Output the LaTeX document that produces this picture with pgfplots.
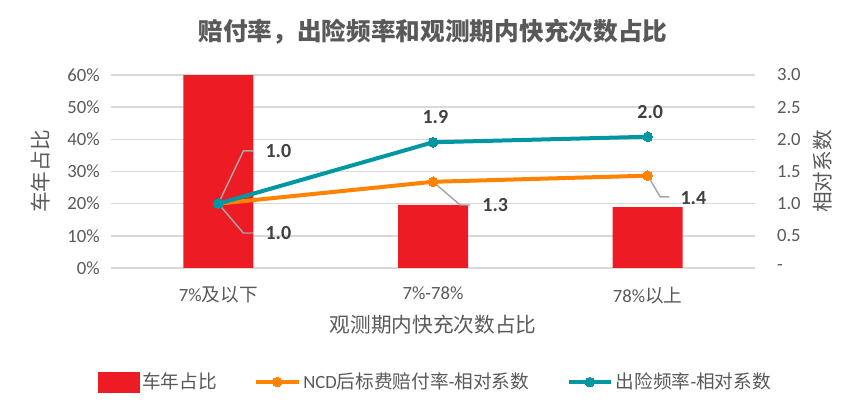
\documentclass[border=0pt]{standalone}
\usepackage{pgfplots}
\pgfplotsset{compat=1.18}
\usepackage{fontspec}
\setmainfont{Carlito}
\newfontfamily\cjk{Noto Sans CJK SC}
\newcommand\zh[1]{{\cjk #1}}
\definecolor{barred}{HTML}{ED1C24}
\definecolor{lorange}{HTML}{FF8200}
\definecolor{lteal}{HTML}{0097A3}
\definecolor{gridgray}{HTML}{D9D9D9}
\definecolor{txtgray}{HTML}{595959}
\definecolor{lblgray}{HTML}{404040}
\definecolor{leadgray}{HTML}{A6A6A6}
\tikzset{datalbl/.style={font=\fontsize{15}{18}\selectfont\bfseries, text=lblgray, anchor=center}}
\pgfplotsset{
  common/.style={
    scale only axis, width=483pt, height=144.75pt,
    xmin=-0.5, xmax=2.5,
    at={(0,0)}, anchor=south west,
    /pgf/number format/assume math mode=true,
    tick label style={font=\fontsize{14}{16}\selectfont, text=txtgray},
    label style={font=\fontsize{15.5}{18}\selectfont, text=txtgray},
    y axis line style={draw=none},
    ytick style={draw=none},
  },
}
\begin{document}
\begin{tikzpicture}
\useasboundingbox (-83.25pt,-108.75pt) rectangle (566.25pt,201pt);
\begin{axis}[
  common,
  axis x line*=bottom, axis y line*=left,
  x axis line style={gridgray, line width=1.1pt},
  ymin=0, ymax=60,
  ytick={0,10,...,60},
  yticklabel={\pgfmathprintnumber{\tick}\%},
  yticklabel style={xshift=-5pt},
  ymajorgrids, grid style={gridgray, line width=1.1pt},
  xtick={0,1,2},
  xticklabels={7\%\zh{及以下}, 7\%-78\%, 78\%\zh{以上}},
  xtick style={draw=none},
  xticklabel style={yshift=-10.5pt},
  extra x ticks={-0.5,0.5,1.5,2.5},
  extra x tick labels={},
  extra x tick style={grid=none, tick align=outside, major tick length=4pt,
    tick style={draw=gridgray, line width=1.1pt}},
  xlabel={\zh{观测期内快充次数占比}},
  xlabel style={at={(axis description cs:0.5,-0.295)}, anchor=center},
  ylabel={\zh{车年占比}},
  ylabel style={at={(axis description cs:-0.110,0.5)}, anchor=center},
  title={\zh{\bfseries 赔付率，出险频率和观测期内快充次数占比}},
  title style={at={(axis description cs:0.5,1.181)}, anchor=center,
    font=\fontsize{18.5}{22}\selectfont, text=txtgray},
]
\addplot[ybar, bar width=52.5pt, fill=barred, draw=none] coordinates {(0,60) (1,19.6) (2,18.9)};
\end{axis}
\begin{axis}[
  common,
  axis x line=none, axis y line*=right,
  ymin=0, ymax=3,
  ytick={0,0.5,1,1.5,2,2.5,3},
  yticklabels={-,0.5,1.0,1.5,2.0,2.5,3.0},
  yticklabel style={anchor=west, xshift=13pt},
  ylabel={\zh{相对系数}},
  ylabel style={at={(axis description cs:1.1056,0.5)}, anchor=center, rotate=0},
  legend style={at={(axis description cs:0.504,-0.591)}, anchor=center,
    draw=none, fill=none, legend columns=3,
    font=\fontsize{14}{16}\selectfont, text=txtgray,
    /tikz/every even column/.append style={column sep=26pt}},
  legend image code/.code={\draw[mark repeat=2,mark phase=2,#1] plot coordinates {(0pt,0pt)(16pt,0pt)(32pt,0pt)};},
]
\addlegendimage{legend image code/.code={\fill[barred] (0pt,-7.5pt) rectangle (31pt,7.5pt);}}
\addlegendentry{\zh{车年占比}}
\addplot[lorange, line width=3pt, mark=*, mark size=3.6pt, mark options={fill=lorange, draw=lorange, line width=0pt}] coordinates {(0,1.0) (1,1.34) (2,1.435)};
\addlegendentry{NCD\zh{后标费赔付率}-\zh{相对系数}}
\addplot[lteal, line width=3pt, mark=*, mark size=3.6pt, mark options={fill=lteal, draw=lteal, line width=0pt}] coordinates {(0,1.0) (1,1.954) (2,2.04)};
\addlegendentry{\zh{出险频率}-\zh{相对系数}}
% leader lines
\draw[leadgray, line width=1.1pt] (axis cs:0,1.0) -- (axis cs:0.1165,1.819) -- (axis cs:0.163,1.819);
\draw[leadgray, line width=1.1pt] (axis cs:0,1.0) -- (axis cs:0.1165,0.544) -- (axis cs:0.163,0.544);
\draw[leadgray, line width=1.1pt] (axis cs:1,1.34) -- (axis cs:1.127,0.979) -- (axis cs:1.174,0.979);
\draw[leadgray, line width=1.1pt] (axis cs:2,1.435) -- (axis cs:2.059,1.104) -- (axis cs:2.101,1.104);
% data labels
\node[datalbl] at (axis cs:0.2795,1.819) {1.0};
\node[datalbl] at (axis cs:0.2795,0.544) {1.0};
\node[datalbl] at (axis cs:1.290,0.979) {1.3};
\node[datalbl] at (axis cs:2.213,1.088) {1.4};
\node[datalbl] at (axis cs:1.011,2.347) {1.9};
\node[datalbl] at (axis cs:2.012,2.425) {2.0};
\end{axis}
\end{tikzpicture}
\end{document}
